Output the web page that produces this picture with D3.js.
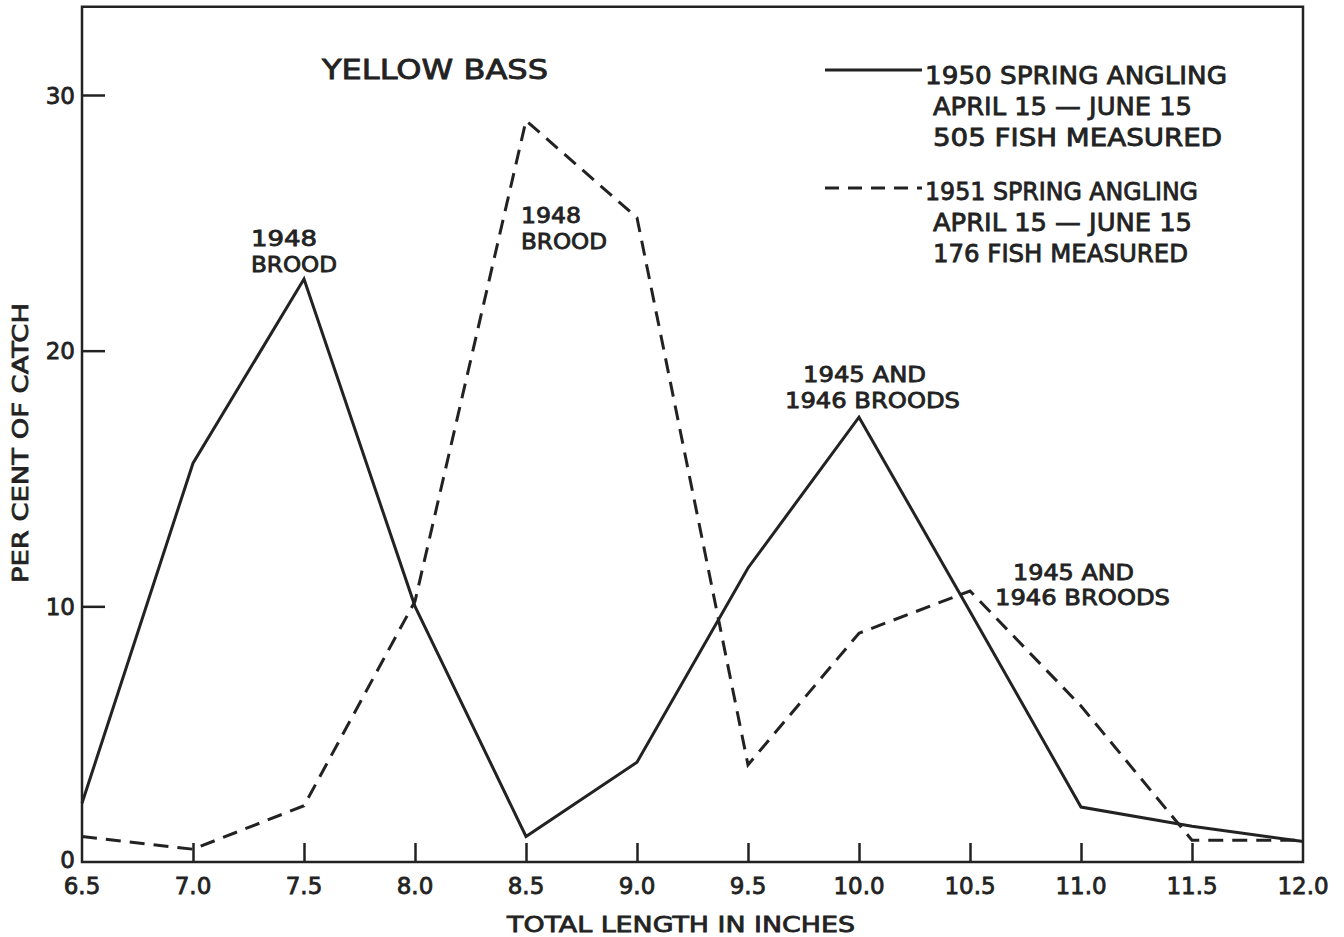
<!DOCTYPE html>
<html>
<head>
<meta charset="utf-8">
<script src="https://cdn.jsdelivr.net/npm/d3@7"></script>
<style>
  html, body { margin: 0; padding: 0; background: #ffffff; }
  svg { display: block; }
  text { font-family: "DejaVu Sans", sans-serif; font-weight: normal; fill: #222; stroke: #222; stroke-width: 0.8px; }
</style>
</head>
<body>
<svg id="chart" width="1344" height="937"></svg>
<script>
// ---- data ----
const lengths = [6.5, 7.0, 7.5, 8.0, 8.5, 9.0, 9.5, 10.0, 10.5, 11.0, 11.5, 12.0];
const spring1950 = [2.3, 15.6, 22.8, 10.0, 1.0, 3.9, 11.5, 17.4, 9.8, 2.15, 1.4, 0.8];
const spring1951 = [1.0, 0.5, 2.2, 10.2, 29.0, 25.2, 3.8, 8.95, 10.6, 6.1, 0.85, 0.85];
const xTickValues = [6.5, 7.0, 7.5, 8.0, 8.5, 9.0, 9.5, 10.0, 10.5, 11.0, 11.5, 12.0];
const xTickLabels = ["6.5", "7.0", "7.5", "8.0", "8.5", "9.0", "9.5", "10.0", "10.5", "11.0", "11.5", "12.0"];
const yTickValues = [0, 10, 20, 30];
const yTickLabels = ["0", "10", "20", "30"];
const title = "YELLOW BASS";
const legend1950 = ["1950 SPRING ANGLING", "APRIL 15 — JUNE 15", "505 FISH MEASURED"];
const legend1951 = ["1951 SPRING ANGLING", "APRIL 15 — JUNE 15", "176 FISH MEASURED"];
const broodNote = ["1948", "BROOD"];
const oldBroodNote = ["1945 AND", "1946 BROODS"];
const xLabel = "TOTAL LENGTH IN INCHES";
const yLabel = "PER CENT OF CATCH";

const svg = d3.select("#chart");
const ink = "#222";

const x = d3.scaleLinear().domain([6.5, 12.0]).range([82, 1303]);
const y = d3.scaleLinear().domain([0, 30]).range([862, 95]);
const yTop = 33.45;

function fit(sel, w) {
  sel.attr("textLength", w).attr("lengthAdjust", "spacingAndGlyphs");
  return sel;
}

// frame
svg.append("path")
  .attr("d", `M${x(6.5)},${y(0)} V${y(yTop)} H${x(12)} V${y(0)} Z`)
  .attr("fill", "none").attr("stroke", ink).attr("stroke-width", 2.5);

// axes
const yAxis = d3.axisLeft(y).tickValues(yTickValues.slice(1))
  .tickSize(-23).tickFormat((d) => yTickLabels[yTickValues.indexOf(d)]).tickPadding(7);
const gy = svg.append("g").attr("transform", `translate(${x(6.5)},0)`).call(yAxis);
gy.select(".domain").remove();
gy.selectAll(".tick line").attr("stroke", ink).attr("stroke-width", 2.5);
gy.selectAll(".tick text").attr("font-size", 23).attr("dy", "0.36em")
  .style("font-family", "DejaVu Sans").attr("fill", ink);
svg.append("text").attr("x", x(6.5) - 7).attr("y", y(0) + 6).attr("text-anchor", "end")
  .attr("font-size", 23).text(yTickLabels[0]);

const xAxis = d3.axisBottom(x).tickValues(xTickValues.slice(1, -1))
  .tickSize(-19).tickFormat(() => "");
const gx = svg.append("g").attr("transform", `translate(0,${y(0)})`).call(xAxis);
gx.select(".domain").remove();
gx.selectAll(".tick line").attr("stroke", ink).attr("stroke-width", 2.5);

svg.append("g").selectAll("text").data(xTickValues).join("text")
  .attr("x", (d) => x(d)).attr("y", 894).attr("text-anchor", "middle")
  .attr("font-size", 23).text((d, i) => xTickLabels[i]);

// lines
const line = d3.line().x((d) => x(d[0])).y((d) => y(d[1]));
svg.append("path").datum(lengths.map((l, i) => [l, spring1950[i]]))
  .attr("d", line).attr("fill", "none").attr("stroke", ink).attr("stroke-width", 3)
  .attr("stroke-linejoin", "miter");
svg.append("path").datum(lengths.map((l, i) => [l, spring1951[i]]))
  .attr("d", line).attr("fill", "none").attr("stroke", ink).attr("stroke-width", 3)
  .attr("stroke-dasharray", "15,9");

// title
fit(svg.append("text").attr("x", 322).attr("y", 79).attr("font-size", 26).text(title), 226);

// legend
svg.append("line").attr("x1", 825).attr("x2", 922).attr("y1", 70).attr("y2", 70)
  .attr("stroke", ink).attr("stroke-width", 3);
svg.append("line").attr("x1", 825).attr("x2", 922).attr("y1", 188).attr("y2", 188)
  .attr("stroke", ink).attr("stroke-width", 3).attr("stroke-dasharray", "14,9");

function block(lines, xs, y0, dy, widths, size) {
  lines.forEach((s, i) => {
    fit(svg.append("text").attr("font-size", size)
      .attr("x", xs[i]).attr("y", y0 + i * dy).text(s), widths[i]);
  });
}
block(legend1950, [925, 933, 933], 84, 31, [302, 259, 289], 24);
block(legend1951, [925, 933, 933], 200, 31, [273, 259, 255], 24);

// annotations
block(broodNote, [251, 251], 246, 25.5, [66, 86], 21);
block(broodNote, [521, 521], 223, 26, [60, 86], 21);
block(oldBroodNote, [803, 785], 382, 25.5, [123, 175], 21);
block(oldBroodNote, [1013, 995], 580, 25, [121, 175], 21);

// axis labels
fit(svg.append("text").attr("x", 681).attr("y", 932).attr("text-anchor", "middle")
  .attr("font-size", 22).text(xLabel), 348);
fit(svg.append("text").attr("transform", "translate(28,443) rotate(-90)")
  .attr("text-anchor", "middle").attr("font-size", 22).text(yLabel), 280);
</script>
</body>
</html>
